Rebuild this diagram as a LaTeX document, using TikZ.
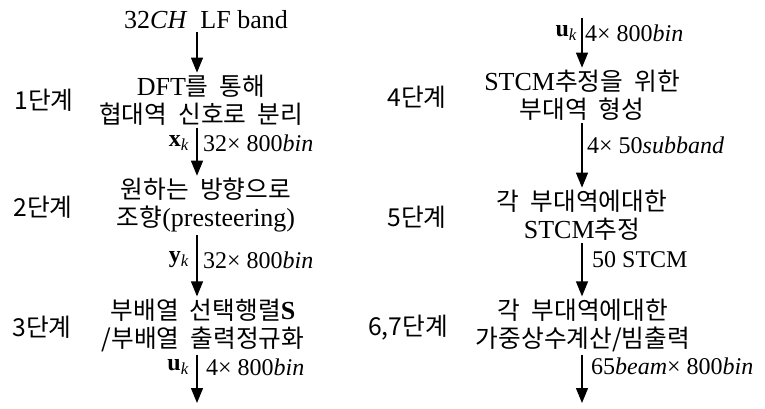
\documentclass[tikz,border=0pt]{standalone}
\usepackage{fontspec}
\setmainfont{Liberation Serif}
\newfontfamily\kr[Scale=0.95,WordSpace=2.0]{Noto Sans CJK KR}
\usetikzlibrary{arrows.meta}
\begin{document}
\begin{tikzpicture}[x=1pt,y=-1pt,
  txt/.style={align=center,font=\fontsize{26}{28}\selectfont,inner sep=0pt},
  lbl/.style={font=\fontsize{24}{26}\selectfont,inner sep=0pt},
  stage/.style={font=\kr\fontsize{26}{27}\selectfont,inner sep=0pt},
  arr/.style={line width=1.3pt,-{Triangle[width=12pt,length=15pt]},shorten <=3pt,shorten >=2pt}]
\useasboundingbox (0,0) rectangle (765,409);
\coordinate (lx) at (197,0);
\coordinate (rx) at (582,0);
\coordinate (rin) at (582,15);
\coordinate (lout) at (197,405);
\coordinate (rout) at (582,405);
% left column
\node[txt] (src) at (206,20) {32\textit{CH}\ \ LF band};
\node[txt] (s1) at (201,100) {DFT{\kr 를 통해}\\{\kr 협대역 신호로 분리}};
\node[txt] (s2) at (206,205) {{\kr 원하는 방향으로}\\{\kr 조향}(presteering)};
\node[txt] (s3) at (203,325) {{\kr 부배열 선택행렬}\textbf{S}\\{\kr /부배열 출력정규화}};
\node[stage] (st1) at (44,100) {1단계};
\node[stage] (st2) at (43,207) {2단계};
\node[stage] (st3) at (42,327) {3단계};
\draw[arr] (src.south -| lx) -- (s1.north -| lx);
\draw[arr] (s1.south -| lx) -- (s2.north -| lx);
\draw[arr] (s2.south -| lx) -- (s3.north -| lx);
\draw[arr] (s3.south -| lx) -- (lout);
\node[lbl,anchor=east] (xk) at (189,143) {\textbf{x}\textsubscript{\itshape k}};
\node[lbl,anchor=west] (xd) at (203,143) {32× 800\textit{bin}};
\node[lbl,anchor=east] (yk) at (189,260) {\textbf{y}\textsubscript{\itshape k}};
\node[lbl,anchor=west] (yd) at (203,260) {32× 800\textit{bin}};
\node[lbl,anchor=east] (uk1) at (189,367) {\textbf{u}\textsubscript{\itshape k}};
\node[lbl,anchor=west] (ud1) at (206,367) {4× 800\textit{bin}};
% right column
\node[txt] (s4) at (582,95) {STCM{\kr 추정을 위한}\\{\kr 부대역 형성}};
\node[txt] (s5) at (582,215) {{\kr 각 부대역에대한}\\STCM{\kr 추정}};
\node[txt] (s6) at (583,325) {{\kr 각 부대역에대한}\\{\kr 가중상수계산/빔출력}};
\node[stage] (st4) at (417,97) {4단계};
\node[stage] (st5) at (417,217) {5단계};
\node[stage] (st6) at (408,328) {6,7단계};
\draw[arr] (rin) -- (s4.north -| rx);
\draw[arr] (s4.south -| rx) -- (s5.north -| rx);
\draw[arr] (s5.south -| rx) -- (s6.north -| rx);
\draw[arr] (s6.south -| rx) -- (rout);
\node[lbl,anchor=east] (uk2) at (577,33) {\textbf{u}\textsubscript{\itshape k}};
\node[lbl,anchor=west] (ud2) at (585,33) {4× 800\textit{bin}};
\node[lbl,anchor=west] (sb) at (587,145) {4× 50\textit{subband}};
\node[lbl,anchor=west] (sc) at (592,260) {50 STCM};
\node[lbl,anchor=west] (bm) at (591,366) {65\textit{beam}× 800\textit{bin}};
\end{tikzpicture}
\end{document}
